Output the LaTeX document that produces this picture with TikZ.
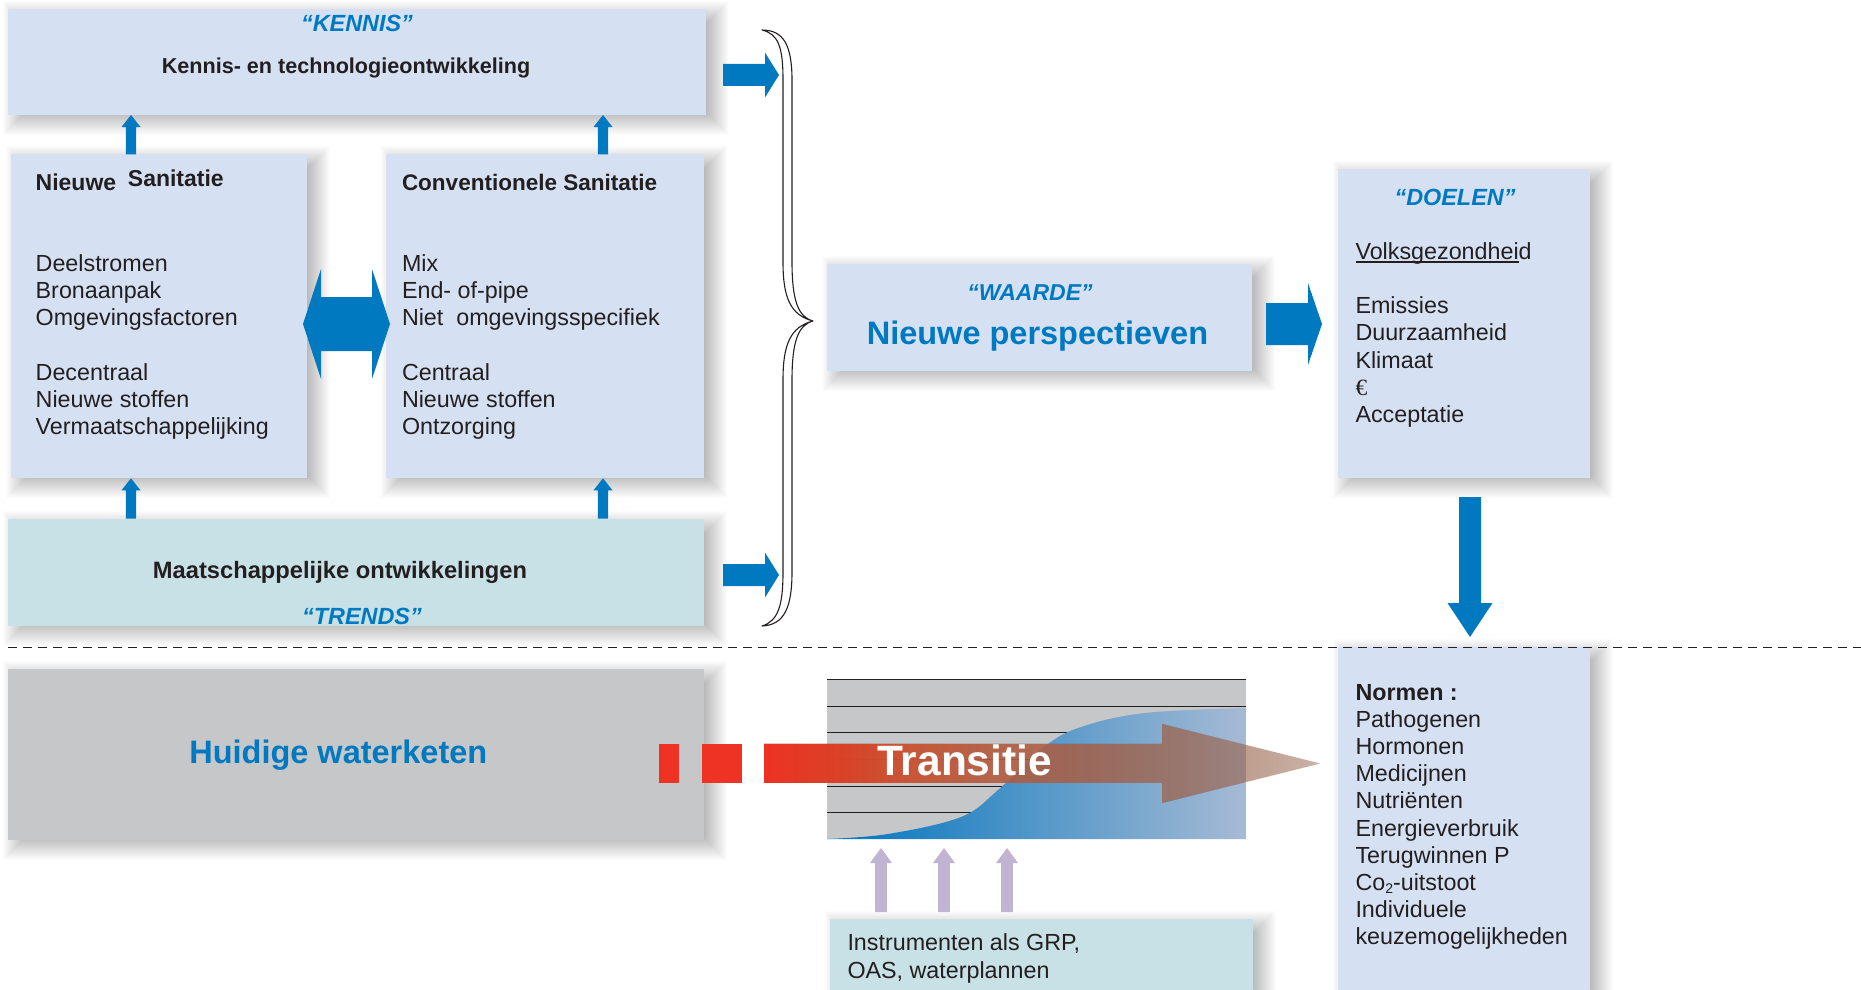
\documentclass[tikz,border=0pt]{standalone}
\usepackage{fontspec}
\setmainfont{Liberation Sans}
\newfontfamily\serifeuro{Liberation Serif}
\usetikzlibrary{calc,fadings}
\definecolor{boxblue}{RGB}{213,225,242}
\definecolor{boxteal}{RGB}{200,225,230}
\definecolor{boxgray}{RGB}{198,199,201}
\definecolor{tblue}{RGB}{0,121,193}
\definecolor{tdark}{RGB}{35,31,32}
\definecolor{lav}{RGB}{192,180,210}
\definecolor{tred}{RGB}{238,50,36}
\definecolor{tredb}{RGB}{240,72,42}
\definecolor{tredc}{RGB}{238,98,60}
\definecolor{torange}{RGB}{232,118,82}
\definecolor{tpeach}{RGB}{250,170,130}
\definecolor{gblue}{RGB}{0,116,190}
\definecolor{gfade}{RGB}{166,186,212}

\pgfdeclarehorizontalshading{transshade}{100bp}{color(0bp)=(tred); color(25bp)=(tred); color(32bp)=(tredb); color(38bp)=(tredc); color(45bp)=(torange); color(75bp)=(tpeach); color(100bp)=(tpeach)}
\tikzfading[name=transfade, left color=transparent!0, middle color=transparent!12, right color=transparent!72]

\newcommand{\softshadow}[4]{%
  \foreach \e in {-10,-9,...,14}{%
    \fill[black,opacity=0.011] ({#1+9-\e},{#2+6-\e}) rectangle ({#3+9+\e},{#4+6+\e});
  }}

% [style]{from}{to}{half shaft}{half head}{head length}
\newcommand{\blockarrow}[6][arrowfill]{%
  \path ($(#3)!#6!(#2)$) coordinate (hbase);
  \fill[#1] ($(#2)!#4!90:(#3)$) -- ($(hbase)!#4!90:(#3)$) -- ($(hbase)!#5!90:(#3)$) -- (#3)
     -- ($(hbase)!#5!-90:(#3)$) -- ($(hbase)!#4!-90:(#3)$) -- ($(#2)!#4!-90:(#3)$) -- cycle;}

\newcommand{\ulpart}[1]{\setbox0\hbox{#1}\rlap{\rule[-3.6pt]{\wd0}{1.6pt}}\box0}

\tikzset{
  box/.style={rectangle, inner sep=0pt, outer sep=0pt, draw=none, anchor=north west},
  bluebox/.style={box, fill=boxblue},
  tealbox/.style={box, fill=boxteal},
  graybox/.style={box, fill=boxgray},
  arrowfill/.style={fill=tblue},
  lavfill/.style={fill=lav},
  txt/.style={inner sep=0pt, outer sep=0pt, text=tdark, anchor=base west, font=\fontsize{23.3}{27.3}\selectfont},
  btxt/.style={txt, font=\bfseries\fontsize{23}{27.3}\selectfont},
  ttl/.style={inner sep=0pt, outer sep=0pt, text=tblue, anchor=base, font=\bfseries\itshape\fontsize{23.4}{27}\selectfont},
  headline/.style={inner sep=0pt, outer sep=0pt, text=tblue, anchor=base, font=\bfseries\fontsize{32.5}{38}\selectfont},
  dashline/.style={draw=tdark, line width=1.3pt, dash pattern=on 9pt off 6pt},
  gridline/.style={draw=tdark, line width=1pt},
}

\begin{document}
\begin{tikzpicture}[x=1pt,y=-1pt]
\useasboundingbox (0,0) rectangle (1861,990);
\fill[white] (0,0) rectangle (1861,990);

% ---------- shadows ----------
\softshadow{8}{9.5}{706}{115}
\softshadow{10.7}{154.3}{307.4}{478.3}
\softshadow{385.7}{154.3}{703.8}{478.3}
\softshadow{8.3}{518.7}{703.8}{626}
\softshadow{827}{263.5}{1252}{371}
\softshadow{1337.6}{168.5}{1590}{478}
\softshadow{1337.6}{647}{1590}{990}
\softshadow{8.3}{668.5}{703.8}{839.5}
\softshadow{829.6}{919}{1252.5}{990}

% ---------- boxes ----------
\node[bluebox, minimum width=698pt, minimum height=105.5pt] (kennis) at (8,9.5) {};
\node[bluebox, minimum width=296.7pt, minimum height=324pt] (nieuw) at (10.7,154.3) {};
\node[bluebox, minimum width=318.1pt, minimum height=324pt] (conv) at (385.7,154.3) {};
\node[tealbox, minimum width=695.5pt, minimum height=107.3pt] (maat) at (8.3,518.7) {};
\node[bluebox, minimum width=425pt, minimum height=107.5pt] (waarde) at (827,263.5) {};
\node[bluebox, minimum width=252.4pt, minimum height=309.5pt] (doelen) at (1337.6,168.5) {};
\node[bluebox, minimum width=252.4pt, minimum height=343pt] (normen) at (1337.6,647) {};
\node[graybox, minimum width=695.5pt, minimum height=171pt] (huidig) at (8.3,668.5) {};
\node[tealbox, minimum width=423pt, minimum height=71pt] (instr) at (829.6,919) {};
\node[graybox, minimum width=419pt, minimum height=160pt] (graph) at (827,679) {};

% ---------- transition graph ----------
\foreach \y in {679,706,732,759,786,812} \draw[gridline] (827,\y) -- (1246,\y);
\path[left color=gblue, right color=gfade]
  plot[smooth, tension=0.6] coordinates {(827,839) (888,834) (961,817) (998,790) (1044,747) (1081,727) (1145,713) (1246,708)}
  -- (1246,839) -- cycle;

% ---------- transition arrow ----------
\fill[tred] (659,744) rectangle (679,783);
\fill[tred] (702,744) rectangle (742,783);
\fill[shading=transshade, path fading=transfade]
  (764,744) -- (1162,744) -- (1162,724) -- (1320,763.5) -- (1162,803) -- (1162,783) -- (764,783) -- cycle;
\node[inner sep=0pt, text=white, anchor=base, font=\bfseries\fontsize{42.4}{50}\selectfont] (transitie) at (964.6,775) {Transitie};

% ---------- texts ----------
\node[ttl] (kennisT) at (357,31.5) {“KENNIS”};
\node[inner sep=0pt, text=tdark, anchor=base, font=\bfseries\fontsize{21.6}{26}\selectfont] (kennisL) at (346,73.3) {Kennis- en technologieontwikkeling};

\node[btxt] (nieuwT) at (35.7,190) {Nieuwe\hspace{11.7pt}\raisebox{3.3pt}{Sanitatie}};
\node[btxt, font=\bfseries\fontsize{22.5}{27}\selectfont] (convT) at (402,190.6) {Conventionele Sanitatie};

\node[txt] (n1) at (35.7,271) {Deelstromen};
\node[txt] (n2) at (35.7,298.3) {Bronaanpak};
\node[txt] (n3) at (35.7,325.6) {Omgevingsfactoren};
\node[txt] (n4) at (35.7,380.2) {Decentraal};
\node[txt] (n5) at (35.7,407.5) {Nieuwe stoffen};
\node[txt] (n6) at (35.7,434.8) {Vermaatschappelijking};

\node[txt] (c1) at (402,271) {Mix};
\node[txt] (c2) at (402,298.3) {End- of-pipe};
\node[txt] (c3) at (402,325.6) {Niet\ \ omgevingsspecifiek};
\node[txt] (c4) at (402,380.2) {Centraal};
\node[txt] (c5) at (402,407.5) {Nieuwe stoffen};
\node[txt] (c6) at (402,434.8) {Ontzorging};

\node[inner sep=0pt, text=tdark, anchor=base, font=\bfseries\fontsize{23.7}{27}\selectfont] (maatL) at (340,578.3) {Maatschappelijke ontwikkelingen};
\node[ttl] (trendsT) at (362,624.5) {“TRENDS”};

\node[ttl, font=\bfseries\itshape\fontsize{23}{27}\selectfont] (waardeT) at (1030,300) {“WAARDE”};
\node[headline] (waardeL) at (1037.5,344) {Nieuwe perspectieven};

\node[ttl] (doelenT) at (1455,205.5) {“DOELEN”};
\node[txt] (d1) at (1355.5,259.3) {\ulpart{Volksgezondhei}d};
\node[txt] (d2) at (1355.5,313.7) {Emissies};
\node[txt] (d3) at (1355.5,340.9) {Duurzaamheid};
\node[txt] (d4) at (1355.5,368.1) {Klimaat};
\node[txt] (d5) at (1355.5,395.3) {{\serifeuro €}};
\node[txt] (d6) at (1355.5,422.5) {Acceptatie};

\node[btxt, font=\bfseries\fontsize{23.3}{27}\selectfont] (m0) at (1355.5,700) {Normen :};
\node[txt] (m1) at (1355.5,727.2) {Pathogenen};
\node[txt] (m2) at (1355.5,754.4) {Hormonen};
\node[txt] (m3) at (1355.5,781.6) {Medicijnen};
\node[txt] (m4) at (1355.5,808.8) {Nutriënten};
\node[txt] (m5) at (1355.5,836) {Energieverbruik};
\node[txt] (m6) at (1355.5,863.2) {Terugwinnen P};
\node[txt] (m7) at (1355.5,890.4) {Co\raisebox{-3pt}{\fontsize{14}{14}\selectfont 2}-uitstoot};
\node[txt] (m8) at (1355.5,917.6) {Individuele};
\node[txt] (m9) at (1355.5,944.8) {keuzemogelijkheden};

\node[headline] (huidigL) at (338.3,763.3) {Huidige waterketen};

\node[txt] (i1) at (847.5,950) {Instrumenten als GRP,};
\node[txt] (i2) at (847.5,978) {OAS, waterplannen};

% ---------- blue arrows ----------
\coordinate (ua1) at (131,154.3); \coordinate (ub1) at (131,115);
\coordinate (ua2) at (603,154.3); \coordinate (ub2) at (603,115);
\coordinate (la1) at (131,518.7); \coordinate (lb1) at (131,478.3);
\coordinate (la2) at (603,518.7); \coordinate (lb2) at (603,478.3);
\blockarrow{ua1}{ub1}{5.2pt}{9.5pt}{12pt}
\blockarrow{ua2}{ub2}{5.2pt}{9.5pt}{12pt}
\blockarrow{la1}{lb1}{5.2pt}{9.5pt}{12pt}
\blockarrow{la2}{lb2}{5.2pt}{9.5pt}{12pt}

\coordinate (ka) at (723,75); \coordinate (kb) at (779,75);
\coordinate (ma) at (723,575); \coordinate (mb) at (779,575);
\blockarrow{ka}{kb}{11pt}{22.5pt}{14pt}
\blockarrow{ma}{mb}{11pt}{22.5pt}{14pt}

\coordinate (wa) at (1266,324); \coordinate (wb) at (1322,324);
\blockarrow{wa}{wb}{21pt}{41pt}{14pt}

\coordinate (da) at (1470,497); \coordinate (db) at (1470,637);
\blockarrow{da}{db}{11pt}{22.5pt}{34pt}

% double arrow between sanitation boxes
\coordinate (dl) at (303,324); \coordinate (dr) at (390,324);
\fill[arrowfill] (dl) -- (321,269) -- (321,297) -- (372,297) -- (372,269) -- (dr)
  -- (372,379) -- (372,351) -- (321,351) -- (321,379) -- cycle;

% purple arrows
\coordinate (pa1) at (881,912); \coordinate (pb1) at (881,848);
\coordinate (pa2) at (944,912); \coordinate (pb2) at (944,848);
\coordinate (pa3) at (1007,912); \coordinate (pb3) at (1007,848);
\blockarrow[lavfill]{pa1}{pb1}{5.8pt}{11pt}{15pt}
\blockarrow[lavfill]{pa2}{pb2}{5.8pt}{11pt}{15pt}
\blockarrow[lavfill]{pa3}{pb3}{5.8pt}{11pt}{15pt}

% ---------- brace ----------
\draw[tdark, line width=1.1pt, fill=white, line join=round]
  (762,30) .. controls (784,30) and (792,46) .. (792,80) -- (792,262)
  .. controls (792,300) and (798,317) .. (813,321)
  .. controls (798,325) and (792,342) .. (792,380) -- (792,572)
  .. controls (792,608) and (784,625) .. (762,626)
  .. controls (778,621) and (783,606) .. (783,572) -- (783,380)
  .. controls (783,345) and (790,327) .. (813,321)
  .. controls (790,315) and (783,297) .. (783,262) -- (783,80)
  .. controls (783,46) and (778,34) .. (762,30) -- cycle;

% ---------- dashed separator ----------
\coordinate (sep1) at (8,647.5); \coordinate (sep2) at (1861,647.5);
\draw[dashline] (sep1) -- (sep2);
\end{tikzpicture}
\end{document}
